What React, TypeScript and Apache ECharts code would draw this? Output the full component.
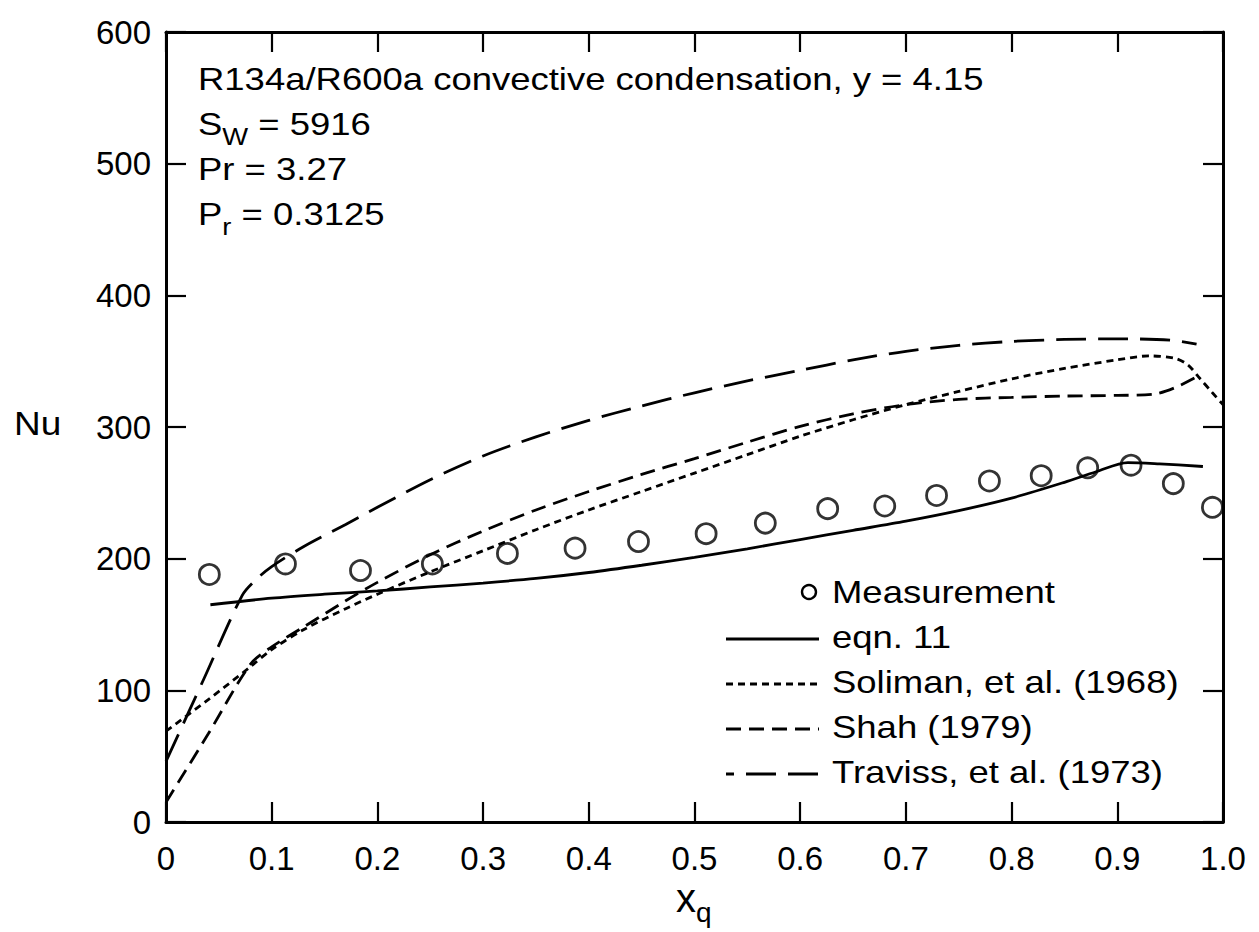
import React, { useEffect, useRef } from "react";
import * as echarts from "echarts";

// ---------- data ----------
const measX = [0.041, 0.113, 0.184, 0.252, 0.323, 0.387, 0.447, 0.511, 0.567, 0.626, 0.680, 0.729, 0.779, 0.828, 0.872, 0.913, 0.953, 0.990];
const measY = [188, 196, 191, 196, 204, 208, 213, 219, 227, 238, 240, 248, 259, 263, 269, 271, 257, 239];

const eqnX = [0.042, 0.1, 0.15, 0.2, 0.25, 0.3, 0.35, 0.4, 0.45, 0.5, 0.55, 0.6, 0.65, 0.7, 0.75, 0.8, 0.85, 0.88, 0.91, 0.94, 0.981];
const eqnY = [165, 170, 173, 175.5, 178.5, 181.5, 185, 189.5, 195, 201, 207.5, 214.5, 221.5, 228.5, 236.5, 246, 258, 266, 273, 272, 270];

const solX = [0, 0.04, 0.08, 0.1, 0.13, 0.17, 0.2, 0.25, 0.3, 0.35, 0.4, 0.45, 0.5, 0.55, 0.6, 0.65, 0.7, 0.75, 0.8, 0.85, 0.9, 0.93, 0.955, 0.967, 0.978, 0.99, 1.0];
const solY = [69, 93, 118, 131, 146, 162, 173, 190, 206, 222, 237, 251, 265, 279, 293, 305.5, 317, 327, 336.5, 344.5, 351, 354, 352, 347, 337, 326, 317];

const shahX = [0, 0.04, 0.08, 0.1, 0.13, 0.17, 0.2, 0.25, 0.3, 0.35, 0.4, 0.45, 0.5, 0.55, 0.6, 0.65, 0.7, 0.75, 0.8, 0.85, 0.9, 0.935, 0.955, 0.975];
const shahY = [15, 67, 120, 133, 148, 168, 182, 203, 221, 237, 251, 264, 276, 288.5, 300.5, 310, 317, 321, 322.5, 323.5, 324, 325, 330, 338];

const travX = [0, 0.036, 0.072, 0.085, 0.1, 0.13, 0.17, 0.2, 0.25, 0.3, 0.35, 0.4, 0.45, 0.5, 0.55, 0.6, 0.65, 0.7, 0.75, 0.8, 0.85, 0.9, 0.95, 0.975];
const travY = [46, 109, 172, 184, 194, 209, 226, 239, 260, 278, 292.5, 305, 316, 326, 335, 343, 351, 357.5, 362, 365, 366.5, 367, 366, 363];

const legendNames = ["Measurement", "eqn. 11", "Soliman, et al. (1968)", "Shah (1979)", "Traviss, et al. (1973)"];
const annotationTitle = "R134a/R600a convective condensation, y = 4.15";

const FONT = "'Liberation Sans', Arial, Helvetica, sans-serif";
const TXT_SCALE = 1.14;

const pairs = (xs: number[], ys: number[]) => xs.map((x, i) => [x, ys[i]]);

let measureCtx: CanvasRenderingContext2D | null = null;
function textWidth(t: string, fs: number) {
  if (!measureCtx) measureCtx = document.createElement("canvas").getContext("2d");
  if (!measureCtx) return t.length * fs * 0.55;
  measureCtx.font = `${fs}px ${FONT}`;
  return measureCtx.measureText(t).width;
}

type Piece = { t: string; fs: number; dy?: number };
function textSeq(x: number, baseline: number, pieces: Piece[], scaleX = TXT_SCALE) {
  let cx = 0;
  const children = pieces.map((p) => {
    const el = {
      type: "text",
      x: cx,
      y: (p.dy || 0) - 0.35 * p.fs,
      style: {
        text: p.t,
        fontSize: p.fs,
        fontFamily: FONT,
        fill: "#000",
        align: "left",
        verticalAlign: "middle",
        textAlign: "left",
        textVerticalAlign: "middle",
      },
    };
    cx += textWidth(p.t, p.fs);
    return el;
  });
  return { type: "group", x, y: baseline, scaleX, children };
}

const LINE_W = 2.8;
const dashSol = [7, 5];
const dashShah = [15, 8];
const dashTrav = [30, 12];

export default function App() {
  const ref = useRef<HTMLDivElement>(null);
  useEffect(() => {
    if (!ref.current) return;
    const chart = echarts.init(ref.current, undefined, { renderer: "svg" });

    const axisCommon = {
      type: "value",
      axisLine: { show: true, onZero: false, lineStyle: { color: "#000", width: 3 } },
      axisTick: { show: true, inside: true, length: 20, lineStyle: { color: "#000", width: 2.2 } },
      splitLine: { show: false },
    };
    const labelStyle = { color: "#000", fontFamily: FONT, fontSize: 33 };

    const FS = 32;
    const legX = 832;
    const lineX1 = 726;
    const lineX2 = 819;
    const legBase = [603, 648, 693, 738, 783];
    const graphic: any[] = [
      textSeq(198, 90, [{ t: annotationTitle, fs: FS }]),
      textSeq(198, 135, [{ t: "S", fs: FS }, { t: "W", fs: 24, dy: 10 }, { t: " = 5916", fs: FS }]),
      textSeq(198, 180, [{ t: "Pr = 3.27", fs: FS }]),
      textSeq(198, 225, [{ t: "P", fs: FS }, { t: "r", fs: 24, dy: 10 }, { t: " = 0.3125", fs: FS }]),
      textSeq(14, 435, [{ t: "Nu", fs: 33 }], 1.12),
      textSeq(676, 912, [{ t: "x", fs: 40 }, { t: "q", fs: 28, dy: 10 }], 1.0),
    ];
    legendNames.forEach((n, i) => {
      graphic.push(textSeq(legX, legBase[i], [{ t: n, fs: FS }]));
    });
    graphic.push({ type: "circle", shape: { cx: 809, cy: 592, r: 7 }, style: { fill: "none", stroke: "#000", lineWidth: 2.4 } });
    const legDash = [null, null, dashSol, dashShah, dashTrav];
    for (let i = 1; i < 5; i++) {
      const y = legBase[i] - 9;
      graphic.push({
        type: "line",
        shape: { x1: lineX1, y1: y, x2: lineX2, y2: y },
        style: {
          stroke: "#000",
          lineWidth: LINE_W,
          lineDash: legDash[i] || undefined,
          lineDashOffset: i === 4 ? 22 : 0,
        },
      });
    }

    const lineSeries = (name: string, xs: number[], ys: number[], dash: any) => ({
      name,
      type: "line",
      data: pairs(xs, ys),
      showSymbol: false,
      symbol: "none",
      smooth: 0.3,
      lineStyle: { color: "#000", width: LINE_W, type: dash },
      silent: true,
      z: 2,
    });

    chart.setOption({
      animation: false,
      backgroundColor: "#fff",
      grid: { left: 166, right: 36, top: 32, bottom: 110, containLabel: false },
      xAxis: [
        {
          ...axisCommon,
          min: 0,
          max: 1,
          interval: 0.1,
          position: "bottom",
          axisLabel: {
            ...labelStyle,
            margin: 20,
            formatter: (v: number) => (Math.abs(v) < 1e-9 ? "0" : v > 0.999 ? "1.0" : v.toFixed(1)),
          },
        },
        { ...axisCommon, min: 0, max: 1, interval: 0.1, position: "top", axisLabel: { show: false } },
      ],
      yAxis: [
        {
          ...axisCommon,
          min: 0,
          max: 600,
          interval: 100,
          position: "left",
          axisLabel: { ...labelStyle, margin: 15, padding: [0, 0, 10, 0] },
        },
        { ...axisCommon, min: 0, max: 600, interval: 100, position: "right", axisLabel: { show: false } },
      ],
      series: [
        lineSeries("eqn. 11", eqnX, eqnY, "solid"),
        lineSeries("Soliman, et al. (1968)", solX, solY, dashSol),
        lineSeries("Shah (1979)", shahX, shahY, dashShah),
        lineSeries("Traviss, et al. (1973)", travX, travY, dashTrav),
        {
          name: "Measurement",
          type: "scatter",
          data: pairs(measX, measY),
          symbol: "circle",
          symbolSize: 20,
          itemStyle: { color: "rgba(0,0,0,0)", borderColor: "#000", borderWidth: 2.8 },
          z: 3,
        },
      ],
      graphic,
    });
    return () => chart.dispose();
  }, []);
  return (
    <div
      ref={ref}
      style={{ position: "fixed", left: 0, top: 0, width: 1259, height: 932, background: "#fff" }}
    />
  );
}
